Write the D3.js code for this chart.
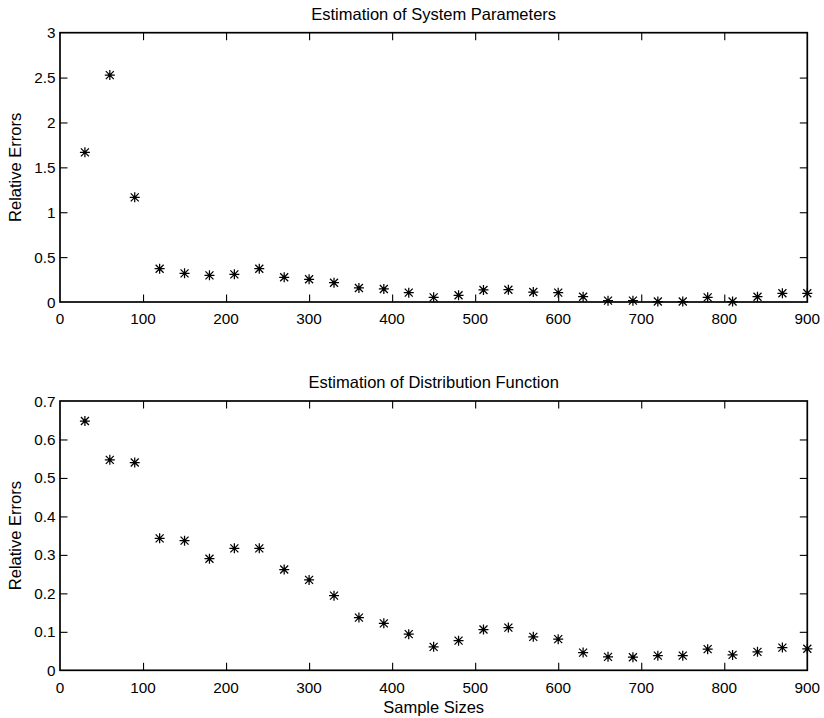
<!DOCTYPE html>
<html>
<head>
<meta charset="utf-8">
<script src="https://cdn.jsdelivr.net/npm/d3@7"></script>
<style>
  html, body { margin: 0; padding: 0; background: #fff; }
  svg { display: block; }
  text { font-family: "Liberation Sans", Arial, Helvetica, sans-serif; fill: #000; }
</style>
</head>
<body>
<svg id="chart" width="824" height="718"></svg>
<script>
// Sample sizes shared by both panels
const sampleSizes = [30, 60, 90, 120, 150, 180, 210, 240, 270, 300, 330, 360, 390, 420, 450,
                     480, 510, 540, 570, 600, 630, 660, 690, 720, 750, 780, 810, 840, 870, 900];

// Relative errors of the estimated system parameters
const paramErrors = [1.667, 2.528, 1.166, 0.371, 0.319, 0.297, 0.308, 0.371, 0.275, 0.253,
                     0.215, 0.156, 0.145, 0.104, 0.052, 0.075, 0.134, 0.137, 0.111, 0.104,
                     0.059, 0.015, 0.015, 0.005, 0.005, 0.052, 0.005, 0.059, 0.097, 0.097];

// Relative errors of the estimated distribution function
const distErrors = [0.648, 0.547, 0.540, 0.343, 0.337, 0.290, 0.317, 0.317, 0.262, 0.235,
                    0.194, 0.137, 0.122, 0.094, 0.061, 0.077, 0.106, 0.111, 0.087, 0.081,
                    0.046, 0.035, 0.034, 0.038, 0.038, 0.055, 0.040, 0.048, 0.059, 0.056];

const xTicks = [0, 100, 200, 300, 400, 500, 600, 700, 800, 900];
const yTicksTop = [0, 0.5, 1, 1.5, 2, 2.5, 3];
const yTicksBottom = [0, 0.1, 0.2, 0.3, 0.4, 0.5, 0.6, 0.7];

const panels = [
  { title: "Estimation of System Parameters", values: paramErrors, yMax: 3, yTicks: yTicksTop,
    top: 32.7, bottom: 302, xlabel: null },
  { title: "Estimation of Distribution Function", values: distErrors, yMax: 0.7, yTicks: yTicksBottom,
    top: 401, bottom: 670.3, xlabel: "Sample Sizes" }
];

const svg = d3.select("#chart");
const left = 60, right = 807.3;
const tickLen = 7.5;
const fmt = d => String(+d.toFixed(2));

panels.forEach(p => {
  const x = d3.scaleLinear().domain([0, 900]).range([left, right]);
  const y = d3.scaleLinear().domain([0, p.yMax]).range([p.bottom, p.top]);
  const g = svg.append("g");

  // inward ticks on all four sides
  const inner = xTicks.slice(1, -1);
  g.append("g").attr("transform", `translate(0,${p.bottom})`)
    .call(d3.axisBottom(x).tickValues(inner).tickSizeInner(-tickLen).tickSizeOuter(0).tickFormat(""))
    .call(a => a.select(".domain").remove());
  g.append("g").attr("transform", `translate(0,${p.top})`)
    .call(d3.axisTop(x).tickValues(inner).tickSizeInner(-tickLen).tickSizeOuter(0).tickFormat(""))
    .call(a => a.select(".domain").remove());
  const yInner = p.yTicks.slice(1, -1);
  g.append("g").attr("transform", `translate(${left},0)`)
    .call(d3.axisLeft(y).tickValues(yInner).tickSizeInner(-tickLen).tickSizeOuter(0).tickFormat(""))
    .call(a => a.select(".domain").remove());
  g.append("g").attr("transform", `translate(${right},0)`)
    .call(d3.axisRight(y).tickValues(yInner).tickSizeInner(-tickLen).tickSizeOuter(0).tickFormat(""))
    .call(a => a.select(".domain").remove());
  g.selectAll(".tick line").attr("stroke", "#000").attr("stroke-width", 1.1);

  // box
  g.append("rect")
    .attr("x", left).attr("y", p.top)
    .attr("width", right - left).attr("height", p.bottom - p.top)
    .attr("fill", "none").attr("stroke", "#000").attr("stroke-width", 1.7);

  // tick labels
  g.selectAll(".xl").data(xTicks).enter().append("text")
    .attr("x", d => x(d)).attr("y", p.bottom + 22.4)
    .attr("text-anchor", "middle").attr("font-size", 15.3).text(d => d);
  g.selectAll(".yl").data(p.yTicks).enter().append("text")
    .attr("x", left - 4.5).attr("y", d => y(d)).attr("dy", "0.36em")
    .attr("text-anchor", "end").attr("font-size", 15.3).text(fmt);

  // title
  g.append("text").attr("x", (left + right) / 2).attr("y", p.top - 12.8)
    .attr("text-anchor", "middle").attr("font-size", 16.5).text(p.title);

  // y label
  g.append("text")
    .attr("transform", `translate(20.5,${(p.top + p.bottom) / 2}) rotate(-90)`)
    .attr("text-anchor", "middle").attr("font-size", 16.5).text("Relative Errors");

  if (p.xlabel) {
    g.append("text").attr("x", (left + right) / 2).attr("y", 713)
      .attr("text-anchor", "middle").attr("font-size", 16.5).text(p.xlabel);
  }

  // asterisk markers
  const r = 5, rd = 4;
  const star = `M${-r},0L${r},0M0,${-r}L0,${r}M${-rd},${-rd}L${rd},${rd}M${-rd},${rd}L${rd},${-rd}`;
  const pts = g.selectAll(".pt").data(p.values).enter().append("g")
    .attr("transform", (d, i) => `translate(${x(sampleSizes[i])},${y(d)})`);
  pts.append("path").attr("d", star)
    .attr("fill", "none").attr("stroke", "#000").attr("stroke-width", 1.25);
  pts.append("circle").attr("r", 1.6).attr("fill", "#000");
});
</script>
</body>
</html>
